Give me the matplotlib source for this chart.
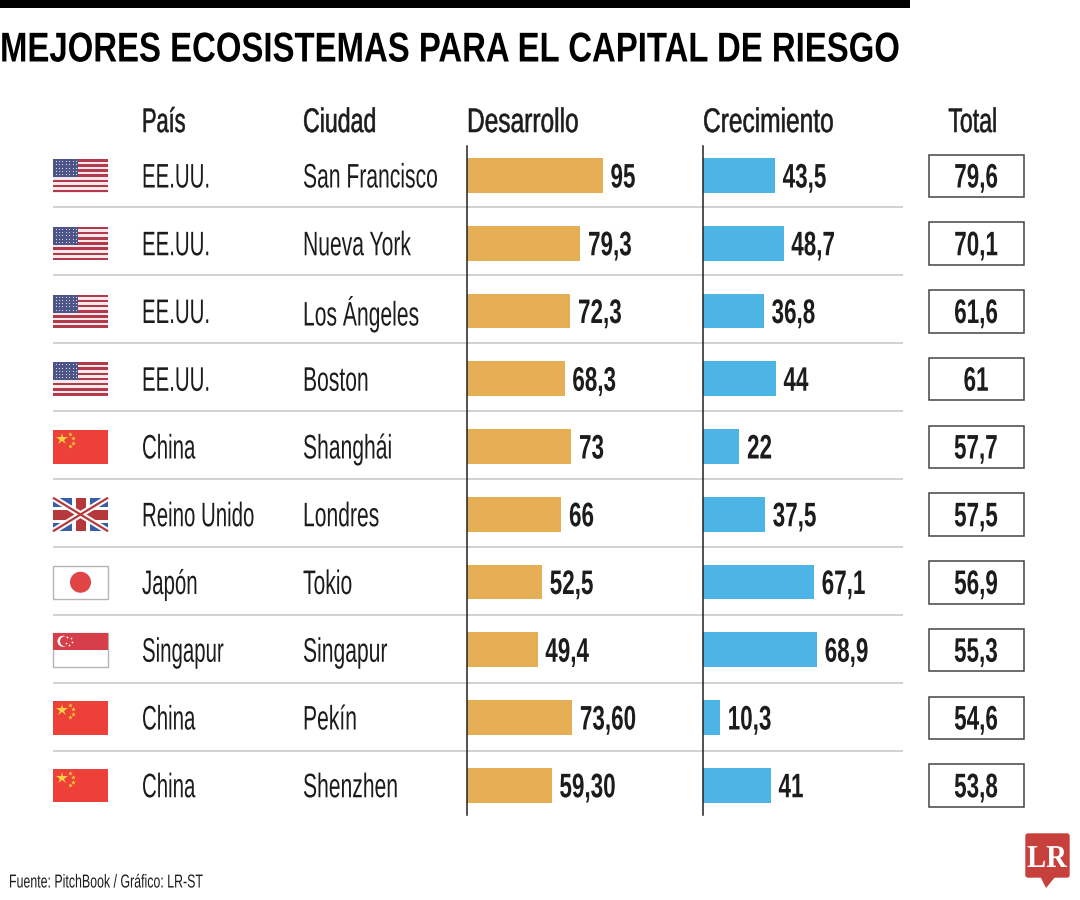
import matplotlib
matplotlib.use("Agg")
import matplotlib.pyplot as plt
from matplotlib.patches import Rectangle, Circle, Polygon, FancyBboxPatch
from matplotlib.patheffects import AbstractPathEffect
from matplotlib.transforms import Affine2D

# Data
titulo = "MEJORES ECOSISTEMAS PARA EL CAPITAL DE RIESGO"
fuente = "Fuente: PitchBook / Gráfico: LR-ST"
encabezados = ["País", "Ciudad", "Desarrollo", "Crecimiento", "Total"]
paises = ["EE.UU.", "EE.UU.", "EE.UU.", "EE.UU.", "China", "Reino Unido", "Japón", "Singapur", "China", "China"]
ciudades = ["San Francisco", "Nueva York", "Los Ángeles", "Boston", "Shanghái", "Londres", "Tokio", "Singapur", "Pekín", "Shenzhen"]
desarrollo = [95, 79.3, 72.3, 68.3, 73, 66, 52.5, 49.4, 73.6, 59.3]
desarrollo_txt = ["95", "79,3", "72,3", "68,3", "73", "66", "52,5", "49,4", "73,60", "59,30"]
crecimiento = [43.5, 48.7, 36.8, 44, 22, 37.5, 67.1, 68.9, 10.3, 41]
crecimiento_txt = ["43,5", "48,7", "36,8", "44", "22", "37,5", "67,1", "68,9", "10,3", "41"]
total_txt = ["79,6", "70,1", "61,6", "61", "57,7", "57,5", "56,9", "55,3", "54,6", "53,8"]

W, H = 1080, 900
ORO = "#E6AF55"
AZUL = "#4DB4E6"
GRIS = "#C9C9C9"
TINTA = "#1c1c1c"
ROW = 67.75
Y0 = 175.5


# the original uses a condensed face, none installed, so squeeze the glyph paths in x
class Squeeze(AbstractPathEffect):
    def __init__(self, sx, center=False, stroke=0):
        super().__init__()
        self.sx = sx
        self.center = center
        self.stroke = stroke

    def draw_path(self, renderer, gc, tpath, affine, rgbFace=None):
        c = 0
        if self.center:
            ext = tpath.get_extents()
            c = (ext.x0 + ext.x1) / 2
        m = Affine2D().translate(-c, 0).scale(self.sx, 1).translate(c, 0) + affine
        gc0 = renderer.new_gc()
        gc0.copy_properties(gc)
        if self.stroke:
            gc0.set_linewidth(self.stroke)
            gc0.set_foreground(rgbFace)
        renderer.draw_path(gc0, tpath, m, rgbFace)
        gc0.restore()


plt.rcParams["font.family"] = ["Liberation Sans", "DejaVu Sans"]
fig = plt.figure(figsize=(W / 100, H / 100), dpi=100, facecolor="white")

# overlay in pixel coords for table furniture
bg = fig.add_axes([0, 0, 1, 1])
bg.set_xlim(0, W)
bg.set_ylim(H, 0)
bg.axis("off")


def txt(x, y, s, sx=0.6, size=24.5, center=False, bold=False, stroke=0, color=TINTA, zorder=5):
    return bg.text(x, y, s, fontsize=size, color=color, fontweight="bold" if bold else "normal",
                   ha="center" if center else "left", va="center_baseline", zorder=zorder,
                   path_effects=[Squeeze(sx, center, stroke)])


def flag_us(x, y, w, h):
    bg.add_patch(Rectangle((x, y), w, h, fc="#F4E9EA", ec="none"))
    for k in range(0, 13, 2):
        bg.add_patch(Rectangle((x, y + k * h / 13), w, h / 13, fc="#B23A4C", ec="none"))
    bg.add_patch(Rectangle((x, y), w * 0.46, h * 7 / 13, fc="#4D5588", ec="none"))
    for r in range(5):
        for c in range(7):
            bg.plot(x + 2.5 + c * 3.4, y + 2.2 + r * 3.2, ".", ms=1.6, mew=0, color="#E6E6EE")


def flag_cn(x, y, w, h):
    bg.add_patch(Rectangle((x, y), w, h, fc="#EC4038", ec="none"))
    bg.plot(x + 9, y + 9, "*", ms=9, mew=0, color="#F9D13E")
    for dx, dy in [(17, 4), (20, 8), (20, 13), (17, 16)]:
        bg.plot(x + dx, y + dy, "*", ms=3.5, mew=0, color="#F9D13E")


def flag_uk(x, y, w, h):
    bg.add_patch(Rectangle((x, y), w, h, fc="#3B5CA8", ec="none"))
    bg.plot([x, x + w], [y, y + h], color="white", lw=4.5, solid_capstyle="butt")
    bg.plot([x, x + w], [y + h, y], color="white", lw=4.5, solid_capstyle="butt")
    bg.plot([x, x + w], [y, y + h], color="#B5383C", lw=1.6, solid_capstyle="butt")
    bg.plot([x, x + w], [y + h, y], color="#B5383C", lw=1.6, solid_capstyle="butt")
    bg.add_patch(Rectangle((x + w / 2 - 9, y), 18, h, fc="white", ec="none"))
    bg.add_patch(Rectangle((x, y + h / 2 - 8), w, 16, fc="white", ec="none"))
    bg.add_patch(Rectangle((x + w / 2 - 5, y), 10, h, fc="#B5383C", ec="none"))
    bg.add_patch(Rectangle((x, y + h / 2 - 5), w, 10, fc="#B5383C", ec="none"))


def flag_jp(x, y, w, h):
    bg.add_patch(Rectangle((x, y), w, h, fc="white", ec="#B5B5B5", lw=1))
    bg.add_patch(Circle((x + w / 2, y + h / 2), 10.5, fc="#E04445", ec="none"))


def flag_sg(x, y, w, h):
    bg.add_patch(Rectangle((x, y), w, h, fc="white", ec="#B5B5B5", lw=1))
    bg.add_patch(Rectangle((x, y), w, h / 2, fc="#D63F4A", ec="none"))
    bg.add_patch(Circle((x + 10, y + 8), 5.5, fc="white", ec="none"))
    bg.add_patch(Circle((x + 12, y + 8), 5, fc="#D63F4A", ec="none"))
    for dx, dy in [(14, 4), (18, 5), (19, 9), (13, 10), (16, 12)]:
        bg.plot(x + dx, y + dy, ".", ms=2.5, mew=0, color="white")


banderas = {"EE.UU.": flag_us, "China": flag_cn, "Reino Unido": flag_uk, "Japón": flag_jp, "Singapur": flag_sg}

# top rule and title
bg.add_patch(Rectangle((0, 0), 910, 8, fc="black", ec="none"))
txt(0, 46, titulo, sx=0.79, size=30, bold=True, color="black")

# headers
for x, s, sx in zip([142, 303, 467, 703], encabezados[:4], [0.64, 0.68, 0.72, 0.72]):
    txt(x, 120, s, sx=sx, stroke=0.4)
txt(973, 120, encabezados[4], sx=0.68, center=True, stroke=0.4)

# separators
for i in range(1, 10):
    yy = Y0 + 31.5 + (i - 1) * 68
    bg.plot([53, 903], [yy, yy], color=GRIS, lw=1.2, solid_capstyle="butt")

# rows
for i in range(10):
    yc = Y0 + i * ROW
    banderas[paises[i]](53, yc - 16.5, 55, 33.5)
    txt(142, yc, paises[i], sx=0.6)
    txt(303, yc, ciudades[i], sx=0.62)
    bg.add_patch(Rectangle((929, yc - 21), 95, 42.5, fc="white", ec="#444444", lw=1.1))
    txt(976, yc, total_txt[i], sx=0.66, center=True, bold=True)


def bar_panel(x0, x1, px_per_unit, values, labels, color):
    ax = fig.add_axes([x0 / W, 1 - 815 / H, (x1 - x0) / W, (815 - 146) / H])
    ax.patch.set_alpha(0)
    ax.set_xlim(0, (x1 - x0) / px_per_unit)
    # row i sits at pixel Y0 + i*ROW
    ax.set_ylim((815 - Y0) / ROW, (146 - Y0) / ROW)
    ax.barh(range(len(values)), values, height=0.51, color=color)
    for sp in ["top", "right", "bottom"]:
        ax.spines[sp].set_visible(False)
    ax.spines["left"].set_color("#222222")
    ax.spines["left"].set_linewidth(1.1)
    ax.set_xticks([])
    ax.set_yticks([])
    for i, (v, s) in enumerate(zip(values, labels)):
        ax.annotate(s, (v, i), xytext=(5.5, 0), textcoords="offset points", va="center_baseline",
                    fontsize=24.5, fontweight="bold", color=TINTA, path_effects=[Squeeze(0.66)])


bar_panel(467, 700, 1.43, desarrollo, desarrollo_txt, ORO)
bar_panel(703, 925, 1.655, crecimiento, crecimiento_txt, AZUL)

# footer and logo
txt(9, 881, fuente, sx=0.66, size=13.5)
bg.add_patch(FancyBboxPatch((1026, 834), 43, 43, boxstyle="round,pad=0,rounding_size=2", fc="#C8403C", ec="#C8403C", lw=1))
bg.add_patch(Polygon([[1040, 876], [1056, 876], [1046, 888]], fc="#C8403C", ec="none"))
bg.text(1047, 856, "LR", family="Liberation Serif", fontweight="bold", fontsize=23, color="white",
        ha="center", va="center_baseline", path_effects=[Squeeze(0.9, True)])

fig.savefig("out.png", dpi=100)
